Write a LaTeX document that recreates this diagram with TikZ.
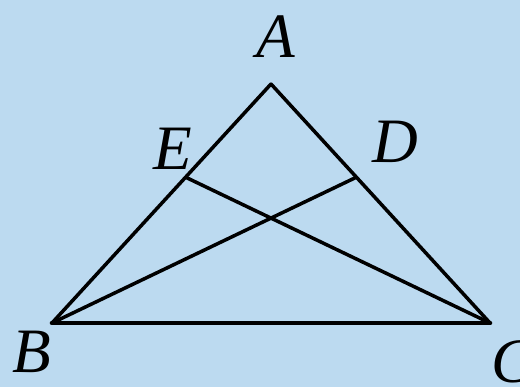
\documentclass[tikz,border=0pt]{standalone}
\usepackage{fontspec}
\setmainfont{Liberation Serif}
\usepackage{xcolor}
\usetikzlibrary{calc}
\definecolor{bgblue}{RGB}{188,218,240}

\begin{document}
\begin{tikzpicture}[
    seg/.style={line width=2pt, line cap=round, line join=round},
    lbl/.style={font=\fontsize{36}{40}\selectfont\itshape, inner sep=0pt}
]
    % background and page size
    \fill[bgblue] (0,0) rectangle (10.4,7.74);
    \useasboundingbox (0,0) rectangle (10.4,7.74);

    \coordinate (A) at (5.42,6.06);
    \coordinate (B) at (1.04,1.28);
    \coordinate (C) at (9.80,1.28);
    \coordinate (E) at ($(A)!0.39!(B)$);
    \coordinate (D) at ($(A)!0.39!(C)$);

    \node[lbl] (lA) at (5.52,7.00) {A};
    \node[lbl] (lB) at (0.64,0.70) {B};
    \node[lbl] (lC) at (10.26,0.50) {C};
    \node[lbl] (lE) at (3.46,4.76) {E};
    \node[lbl] (lD) at (7.90,4.90) {D};

    \draw[seg] (A) -- (B);
    \draw[seg] (A) -- (C);
    \draw[seg, line width=2.6pt] (B) -- (C);
    \draw[seg] (B) -- (D);
    \draw[seg] (C) -- (E);
\end{tikzpicture}
\end{document}
